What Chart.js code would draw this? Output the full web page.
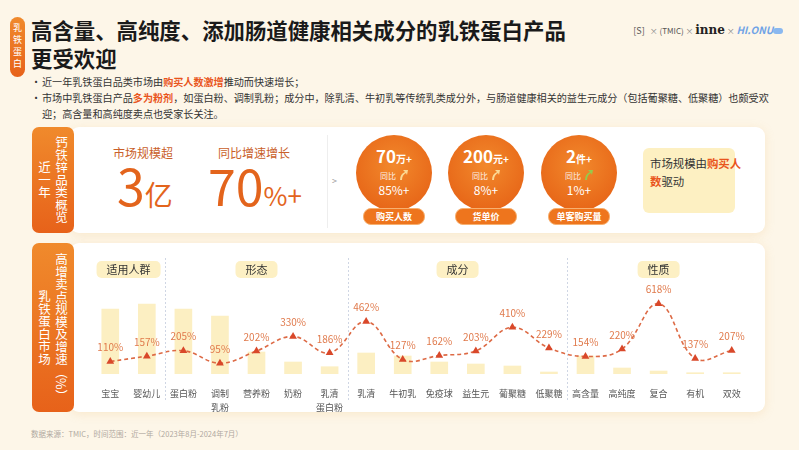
<!DOCTYPE html>
<html>
<head>
<meta charset="utf-8">
<script src="https://cdn.jsdelivr.net/npm/chart.js@4"></script>
<style>
  body { margin: 0; width: 799px; height: 450px; background: #fdf6e8; font-family: "Noto Sans CJK SC", "Noto Sans", sans-serif; position: relative; overflow: hidden; color: #333; }
  .abs { position: absolute; }
  .tag { background: linear-gradient(180deg, #f08a2c, #e7621a); border-radius: 7px; color: #fff; writing-mode: vertical-rl; text-align: center; display: flex; align-items: center; justify-content: center; }
  .panel { background: #fff; border-radius: 9px; box-shadow: 0 2px 10px rgba(240, 190, 120, 0.25); }
  .hl { color: #e9551c; font-weight: bold; }
  .circle { width: 76px; height: 76px; border-radius: 50%; background: radial-gradient(circle at 50% 40%, #f2892c, #e45c12); color: #fff; text-align: center; }
  .pill { background: #ee751d; color: #fff; font-size: 9px; font-weight: bold; border-radius: 8px; height: 15px; line-height: 15px; text-align: center; border: 1px solid #f7b070; }
</style>
</head>
<body>

<div class="abs tag" style="left:10px;top:17px;width:15px;height:60px;border-radius:8px;font-size:9px;letter-spacing:3px;">乳铁蛋白</div>
<div class="abs" style="left:31px;top:16px;font-size:21.4px;font-weight:bold;line-height:28px;color:#1a1a1a;">高含量、高纯度、添加肠道健康相关成分的乳铁蛋白产品<br>更受欢迎</div>

<div class="abs" style="left:630px;top:22px;width:160px;height:18px;font-size:8px;color:#888;white-space:nowrap;">
  <span style="display:inline-block;width:18px;text-align:center;font-size:9px;color:#555;">[S]</span> ×
  <span style="display:inline-block;width:24px;text-align:center;font-size:8px;color:#555;">(TMIC)</span> ×
  <span style="font-family:'DejaVu Serif',serif;font-weight:bold;font-size:12px;color:#222;">inne</span> ×
  <span style="font-style:italic;font-weight:bold;font-size:10px;color:#6fa3e6;">HI.ONU</span><span style="display:inline-block;width:10px;height:6px;background:#8ab8f0;border-radius:3px;"></span>
</div>

<div class="abs" id="bullets" style="left:31px;top:74px;font-size:10.1px;line-height:16px;width:740px;"></div>

<!-- 近一年概览 -->
<div class="abs panel" style="left:70px;top:127px;width:695px;height:106px;"></div>
<div class="abs tag" style="left:32px;top:127px;width:42px;height:106px;font-size:12.5px;line-height:17px;">钙铁锌品类概览<br>近一年</div>
<div class="abs" style="left:103px;top:144px;width:80px;text-align:center;font-size:12px;color:#c9602a;">市场规模超</div>
<div class="abs" style="left:100px;top:156px;width:90px;text-align:center;color:#e3641c;white-space:nowrap;"><span style="font-size:50px;line-height:56px;">3</span><span style="font-size:28px;">亿</span></div>
<div class="abs" style="left:208px;top:144px;width:92px;text-align:center;font-size:12px;color:#c9602a;">同比增速增长</div>
<div class="abs" style="left:200px;top:156px;width:110px;text-align:center;color:#e3641c;white-space:nowrap;"><span style="font-size:50px;line-height:56px;">70</span><span style="font-size:26px;">%+</span></div>
<div class="abs" style="left:327px;top:135px;width:1px;height:93px;background:#eee;"></div>
<div class="abs" style="left:332px;top:174px;font-size:9px;color:#999;">&gt;</div>
<div id="kpis"></div>
<div class="abs" style="left:643px;top:148px;width:92px;height:65px;background:#fdf0c2;border-radius:6px;"></div>
<div class="abs" style="left:650px;top:154px;width:84px;font-size:11.4px;line-height:18px;color:#333;white-space:nowrap;">市场规模由<span class="hl">购买人</span><br><span class="hl">数</span>驱动</div>

<!-- 高增卖点 -->
<div class="abs panel" style="left:70px;top:243px;width:695px;height:169px;"></div>
<div class="abs tag" style="left:32px;top:243px;width:42px;height:169px;font-size:12.5px;line-height:17px;">高增卖点规模及增速（%）<br>乳铁蛋白市场</div>
<div class="abs" style="left:78px;top:243px;width:687px;height:169px;">
  <canvas id="c" width="687" height="169"></canvas>
</div>

<div class="abs" style="left:31px;top:428px;font-size:7.5px;color:#b0a8a0;">数据来源：TMIC，时间范围：近一年（2023年8月-2024年7月）</div>

<script>
// 要点文字
const bulletLines = [
  '近一年乳铁蛋白品类市场由<span class="hl">购买人数激增</span>推动而快速增长；',
  '市场中乳铁蛋白产品<span class="hl">多为粉剂</span>，如蛋白粉、调制乳粉；成分中，除乳清、牛初乳等传统乳类成分外，与肠道健康相关的益生元成分（包括葡聚糖、低聚糖）也颇受欢<br>迎；高含量和高纯度卖点也受家长关注。'
];

// 近一年概览 KPI
const kpiNames = ['购买人数', '货单价', '单客购买量'];
const kpiValues = ['70', '200', '2'];
const kpiUnits = ['万+', '元+', '件+'];
const kpiYoY = ['85%+', '8%+', '1%+'];
const kpiArrowColors = ['#fde3a0', '#fde3a0', '#8fd14f'];
const kpiCenters = [394, 486, 579];

// 高增卖点
const groupNames = ['适用人群', '形态', '成分', '性质'];
const groupSizes = [2, 5, 6, 5];
const categories = ['宝宝', '婴幼儿', '蛋白粉', ['调制', '乳粉'], '营养粉', '奶粉', ['乳清', '蛋白粉'],
  '乳清', '牛初乳', '免疫球', '益生元', '葡聚糖', '低聚糖', '高含量', '高纯度', '复合', '有机', '双效'];
const marketSize = [65, 70, 65, 58, 22, 12, 7.3, 21, 18, 12, 10, 8, 2, 18, 6, 3, 1.3, 1.3];
const growthRate = [110, 157, 205, 95, 202, 330, 186, 462, 127, 162, 203, 410, 229, 154, 220, 618, 137, 207];

document.getElementById('bullets').innerHTML = bulletLines.map(t =>
  `<div style="position:relative;padding-left:11px;white-space:nowrap;"><span style="position:absolute;left:0;">•</span>${t}</div>`).join('');

const arrowSvg = c => `<svg width="10" height="12" viewBox="0 0 10 12" style="vertical-align:-2px"><path d="M2 11 Q2 5 7 3 L5 1 L10 1 L9 6 L8 4 Q4 6 4 11 Z" fill="${c}"/></svg>`;
document.getElementById('kpis').innerHTML = kpiNames.map((name, i) => `
  <div class="abs circle" style="left:${kpiCenters[i] - 38}px;top:135px;">
    <div style="margin-top:11px;line-height:20px;white-space:nowrap;"><span style="font-size:17px;font-weight:bold;">${kpiValues[i]}</span><span style="font-size:10px;font-weight:bold;">${kpiUnits[i]}</span></div>
    <div style="font-size:8px;line-height:13px;opacity:0.9;">同比 ${arrowSvg(kpiArrowColors[i])}</div>
    <div style="font-size:12px;line-height:16px;">${kpiYoY[i]}</div>
  </div>
  <div class="abs pill" style="left:${kpiCenters[i] - 31}px;top:208px;width:60px;">${name}</div>`).join('');

// 分组标签和虚线分隔
const groupPlugin = {
  id: 'groups',
  afterDraw(chart) {
    const ctx = chart.ctx;
    const x = chart.scales.x;
    ctx.save();
    let start = 0;
    groupSizes.forEach((size, g) => {
      const end = start + size - 1;
      const cx = (x.getPixelForValue(start) + x.getPixelForValue(end)) / 2;
      ctx.font = '11px "Noto Sans CJK SC"';
      const w = ctx.measureText(groupNames[g]).width + 20;
      ctx.fillStyle = '#fdf0c4';
      ctx.beginPath();
      ctx.roundRect(cx - w / 2, 18, w, 17, 5);
      ctx.fill();
      ctx.fillStyle = '#333';
      ctx.textAlign = 'center';
      ctx.textBaseline = 'middle';
      ctx.fillText(groupNames[g], cx, 27);
      if (g > 0) {
        const sx = Math.round((x.getPixelForValue(start - 1) + x.getPixelForValue(start)) / 2) + 0.5;
        ctx.strokeStyle = '#cfd6e4';
        ctx.lineWidth = 1;
        ctx.setLineDash([2, 2]);
        ctx.beginPath();
        ctx.moveTo(sx, 15);
        ctx.lineTo(sx, 158);
        ctx.stroke();
        ctx.setLineDash([]);
      }
      start += size;
    });
    // 增速标签
    const meta = chart.getDatasetMeta(0);
    ctx.font = '10px "Noto Sans CJK SC"';
    ctx.fillStyle = '#e07a4c';
    meta.data.forEach((pt, i) => {
      ctx.fillText(growthRate[i] + '%', pt.x, pt.y - 14);
    });
    ctx.restore();
  }
};

new Chart(document.getElementById('c'), {
  data: {
    labels: categories,
    datasets: [{
      type: 'line',
      label: '增速',
      data: growthRate,
      yAxisID: 'y1',
      order: 0,
      borderColor: '#dd6a45',
      borderWidth: 1.6,
      borderDash: [4, 3],
      tension: 0.4,
      pointStyle: 'triangle',
      pointRadius: 4.5,
      pointBackgroundColor: '#d9482a',
      pointBorderWidth: 0
    }, {
      type: 'bar',
      label: '规模',
      data: marketSize,
      yAxisID: 'y',
      order: 1,
      backgroundColor: '#fcefc2',
      barThickness: 17
    }]
  },
  options: {
    responsive: false,
    animation: false,
    layout: { padding: { left: 14, right: 15, top: 40, bottom: 0 } },
    plugins: { legend: { display: false }, tooltip: { enabled: false } },
    scales: {
      x: {
        grid: { display: false },
        border: { display: false },
        ticks: { font: { size: 9, family: '"Noto Sans CJK SC"', lineHeight: 1.55 }, color: '#555', padding: 5, maxRotation: 0, autoSkip: false },
        afterFit: scale => { scale.height = 38; }
      },
      y: { display: false, min: 0, max: 91 },
      y1: { display: false, min: 0, max: 800 }
    }
  },
  plugins: [groupPlugin]
});
</script>
</body>
</html>
